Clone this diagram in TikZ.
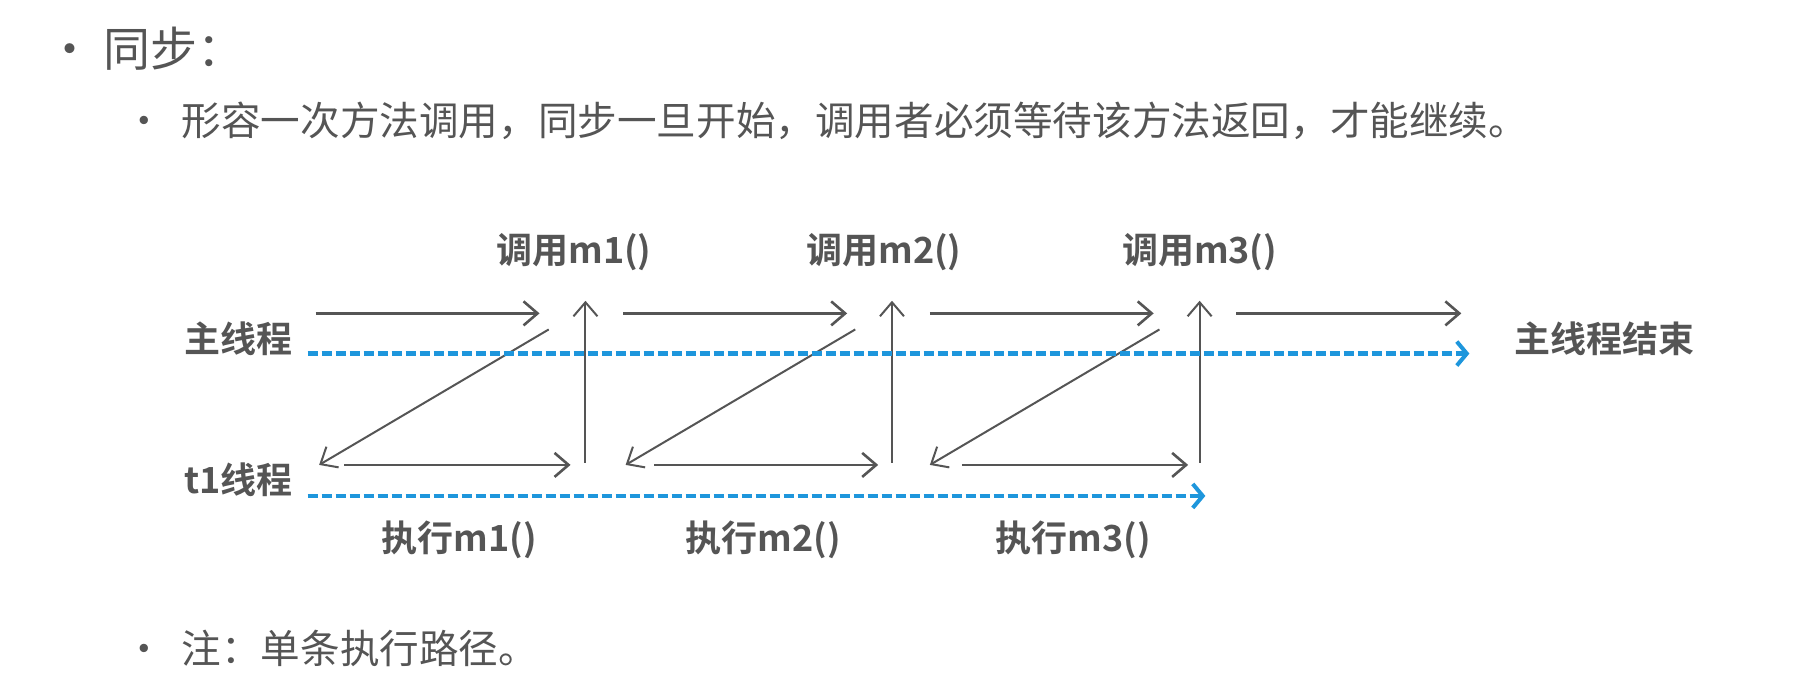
\documentclass[tikz,border=0pt]{standalone}
\usepackage{fontspec}
\newfontfamily\cjk{Noto Sans CJK SC}
\newfontfamily\cjkb{Noto Sans CJK SC Bold}
\usetikzlibrary{arrows.meta}
\definecolor{gr}{RGB}{85,85,85}
\definecolor{bl}{RGB}{30,150,220}
\tikzset{
 ar/.style={draw=gr,line width=1.3pt,-{Straight Barb[length=7pt,width=12pt]}},
 bluedash/.style={draw=bl,line width=2.2pt,dash pattern=on 5pt off 2pt,-{Straight Barb[length=5pt,width=12pt,line width=2pt]}},
 lab/.style={font=\cjkb\fontsize{18}{20}\selectfont,text=gr,inner sep=0pt},
 body/.style={font=\cjk\fontsize{19.8}{22}\selectfont,text=gr,inner sep=0pt,anchor=west},
}
\begin{document}
\begin{tikzpicture}[x=0.574pt,y=-0.574pt]
\useasboundingbox (0,0) rectangle (1568,588);
\node[body,font=\cjk\fontsize{23.5}{26}\selectfont] (t1) at (40,42) {•\ 同步：};
\node[body] (t2) at (108,105) {•\ \ 形容一次方法调用，同步一旦开始，调用者必须等待该方法返回，才能继续。};
\node[body] (t3) at (108,565) {•\ \ 注：单条执行路径。};
\node[lab] (mt) at (208,295) {主线程};
\node[lab] (me) at (1398,295) {主线程结束};
\node[lab] (tt) at (208,418) {t1线程};
\foreach \x/\i in {500/1,770/2,1045/3}{\node[lab] (c\i) at (\x,220) {调用m\i()};}
\foreach \x/\i in {400/1,665/2,935/3}{\node[lab] (e\i) at (\x,470) {执行m\i()};}
\foreach \a/\b/\i in {275/470/1,543/738/2,810/1005/3,1077/1273/4}{
 \coordinate (ma\i) at (\a,273); \coordinate (mb\i) at (\b,273); \draw[ar] (ma\i) -- (mb\i);}
\foreach \a/\b/\i in {300/497/1,570/765/2,838/1035/3}{
 \coordinate (ta\i) at (\a,405); \coordinate (tb\i) at (\b,405); \draw[ar] (ta\i) -- (tb\i);}
\foreach \x/\i in {510/1,777/2,1045/3}{
 \coordinate (va\i) at (\x,403); \coordinate (vb\i) at (\x,262); \draw[ar,line width=1pt] (va\i) -- (vb\i);}
\foreach \a/\i in {478/1,745/2,1010/3}{
 \coordinate (da\i) at (\a,287); \coordinate (db\i) at (\a-200,405); \draw[ar,line width=1pt] (da\i) -- (db\i);}
\coordinate (b1) at (268,308); \coordinate (b2) at (1280,308);
\coordinate (b3) at (268,432); \coordinate (b4) at (1050,432);
\draw[bluedash] (b1) -- (b2);
\draw[bluedash] (b3) -- (b4);
\end{tikzpicture}
\end{document}
